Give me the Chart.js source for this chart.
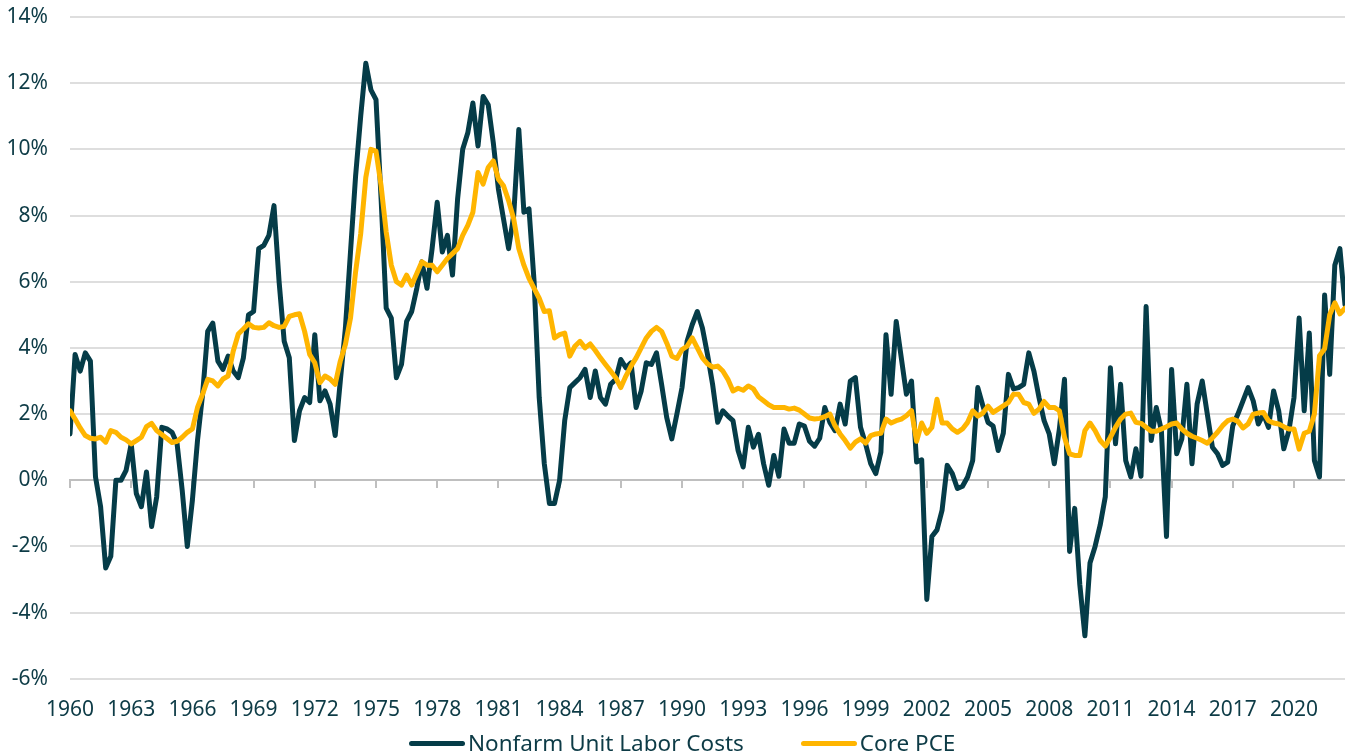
<!DOCTYPE html>
<html>
<head>
<meta charset="utf-8">
<script src="https://cdn.jsdelivr.net/npm/chart.js@4.4.1/dist/chart.umd.min.js"></script>
<style>
  html, body { margin: 0; padding: 0; background: #fff; overflow: hidden; }
  #wrap { position: relative; width: 1345px; height: 755px; }
  #legend {
    position: absolute; top: 732px; left: 409px;
    display: flex; align-items: center;
    font-family: 'Noto Sans', sans-serif; font-size: 22.5px; line-height: 1;
    color: #0d3b46; white-space: nowrap;
  }
  #legend .item { display: flex; align-items: center; margin-right: 57px; }
  #legend .swatch { width: 56px; height: 5px; border-radius: 3px; margin-right: 3px; }
</style>
</head>
<body>
<div id="wrap">
  <canvas id="laborChart"></canvas>
  <div id="legend"></div>
</div>
<script>
// quarterly y/y % change, 1960Q1 .. 2022Q3 (4 values per row = one year)
const startYear = 1960;

const unitLaborCosts = [
  1.4, 3.8, 3.3, 3.85,     3.6, 0.1, -0.8, -2.65,   -2.3, 0.0, 0.0, 0.3,     1.1, -0.4, -0.8, 0.25,
  -1.4, -0.5, 1.6, 1.55,   1.45, 1.1, -0.3, -2.0,   -0.6, 1.2, 2.6, 4.5,     4.75, 3.6, 3.35, 3.75,
  3.3, 3.1, 3.7, 5.0,      5.1, 7.0, 7.1, 7.4,      8.3, 6.0, 4.2, 3.7,      1.2, 2.1, 2.5, 2.35,
  4.4, 2.4, 2.7, 2.3,      1.35, 3.0, 4.6, 6.9,     9.2, 11.0, 12.6, 11.8,   11.5, 8.5, 5.2, 4.9,
  3.1, 3.5, 4.8, 5.1,      5.8, 6.6, 5.8, 7.0,      8.4, 6.9, 7.4, 6.2,      8.5, 10.0, 10.5, 11.4,
  10.1, 11.6, 11.35, 10.2, 8.8, 7.9, 7.0, 8.0,      10.6, 8.1, 8.2, 6.0,     2.5, 0.5, -0.7, -0.7,
  0.0, 1.8, 2.8, 2.95,     3.1, 3.35, 2.5, 3.3,     2.5, 2.3, 2.9, 3.05,     3.65, 3.4, 3.55, 2.2,
  2.7, 3.55, 3.5, 3.85,    2.9, 1.9, 1.25, 2.0,     2.8, 4.2, 4.7, 5.1,      4.6, 3.8, 2.9, 1.75,
  2.1, 1.94, 1.8, 0.9,     0.4, 1.6, 1.0, 1.39,     0.5, -0.15, 0.75, 0.12,  1.55, 1.12, 1.12, 1.7,
  1.64, 1.18, 1.03, 1.27,  2.2, 1.75, 1.5, 2.3,     1.7, 3.0, 3.1, 1.6,      1.1, 0.5, 0.2, 0.85,
  4.4, 2.6, 4.8, 3.7,      2.6, 3.0, 0.55, 0.62,    -3.6, -1.7, -1.5, -0.9,  0.45, 0.2, -0.25, -0.18,
  0.1, 0.6, 2.8, 2.25,     1.75, 1.64, 0.9, 1.42,   3.2, 2.76, 2.8, 2.9,     3.85, 3.3, 2.5, 1.8,
  1.4, 0.5, 1.55, 3.05,    -2.15, -0.85, -3.15, -4.7, -2.5, -2.0, -1.35, -0.5, 3.4, 1.1, 2.9, 0.6,
  0.1, 0.95, 0.12, 5.25,   1.2, 2.2, 1.5, -1.7,     3.35, 0.8, 1.25, 2.9,    0.5, 2.3, 3.0, 2.0,
  1.0, 0.8, 0.45, 0.55,    1.65, 2.0, 2.4, 2.8,     2.4, 1.7, 2.0, 1.6,      2.7, 2.1, 0.95, 1.5,
  2.5, 4.9, 2.1, 4.45,     0.6, 0.1, 5.6, 3.2,      6.5, 7.0, 5.3
];

const corePce = [
  2.1, 1.85, 1.58, 1.35,   1.27, 1.25, 1.3, 1.15,   1.5, 1.45, 1.3, 1.22,    1.1, 1.2, 1.3, 1.62,
  1.72, 1.5, 1.38, 1.26,   1.14, 1.18, 1.3, 1.45,   1.55, 2.2, 2.6, 3.05,    3.0, 2.85, 3.06, 3.15,
  3.9, 4.42, 4.57, 4.73,   4.62, 4.6, 4.62, 4.76,   4.67, 4.62, 4.65, 4.95,  5.0, 5.03, 4.5, 3.8,
  3.55, 2.95, 3.15, 3.06,  2.9, 3.6, 4.1, 4.9,      6.3, 7.45, 9.15, 10.0,   9.95, 8.9, 7.5, 6.5,
  6.0, 5.9, 6.2, 5.9,      6.25, 6.6, 6.5, 6.5,     6.3, 6.5, 6.7, 6.85,     7.0, 7.4, 7.7, 8.1,
  9.3, 8.95, 9.45, 9.65,   9.1, 8.9, 8.45, 7.9,     7.0, 6.5, 6.1, 5.8,      5.5, 5.1, 5.12, 4.3,
  4.4, 4.45, 3.75, 4.05,   4.2, 4.0, 4.12, 3.92,    3.7, 3.5, 3.3, 3.1,      2.8, 3.15, 3.45, 3.7,
  4.0, 4.3, 4.5, 4.62,     4.5, 4.15, 3.75, 3.68,   3.95, 4.05, 4.3, 4.0,    3.7, 3.52, 3.42, 3.45,
  3.3, 3.05, 2.7, 2.78,    2.72, 2.85, 2.76, 2.52,  2.4, 2.28, 2.2, 2.2,     2.2, 2.15, 2.18, 2.12,
  2.0, 1.88, 1.85, 1.87,   1.92, 2.0, 1.65, 1.4,    1.2, 0.97, 1.15, 1.25,   1.12, 1.35, 1.4, 1.42,
  1.85, 1.73, 1.8, 1.85,   1.95, 2.1, 1.18, 1.73,   1.42, 1.6, 2.45, 1.73,   1.73, 1.55, 1.45, 1.55,
  1.75, 2.1, 1.94, 2.03,   2.24, 2.05, 2.15, 2.25,  2.35, 2.6, 2.6, 2.35,    2.3, 2.02, 2.15, 2.38,
  2.2, 2.2, 2.1, 1.3,      0.8, 0.75, 0.75, 1.5,    1.73, 1.5, 1.2, 1.03,    1.3, 1.6, 1.85, 2.0,
  2.03, 1.75, 1.72, 1.6,   1.48, 1.48, 1.55, 1.62,  1.7, 1.73, 1.55, 1.42,   1.33, 1.27, 1.2, 1.12,
  1.28, 1.45, 1.65, 1.8,   1.85, 1.78, 1.58, 1.7,   2.0, 2.03, 2.05, 1.8,    1.73, 1.7, 1.62, 1.55,
  1.55, 0.94, 1.42, 1.48,  2.0, 3.76, 3.97, 5.0,    5.36, 5.03, 5.2
];

const seriesNames = ['Nonfarm Unit Labor Costs', 'Core PCE'];
const xTickYears = [1960, 1963, 1966, 1969, 1972, 1975, 1978, 1981, 1984, 1987, 1990,
                    1993, 1996, 1999, 2002, 2005, 2008, 2011, 2014, 2017, 2020];
const yTickValues = [-6, -4, -2, 0, 2, 4, 6, 8, 10, 12, 14];

const darkTeal = '#053c48';
const gold = '#ffb500';
const textColor = '#0d3b46';
const gridGray = '#dedede';
const axisGray = '#bfbfbf';
const fontFamily = "'Noto Sans', sans-serif";

// x position of each quarter (1960.0, 1960.25, ...)
const quarterX = unitLaborCosts.map((_, i) => startYear + i / 4);
const xMax = quarterX[quarterX.length - 1];

const toPoints = values => values.map((v, i) => ({ x: quarterX[i], y: v }));
const setTicks = list => scale => { scale.ticks = list.map(v => ({ value: v })); };

Chart.defaults.font.family = fontFamily;

const ctx = document.getElementById('laborChart').getContext('2d');
const chart = new Chart(ctx, {
  type: 'line',
  data: {
    datasets: [
      {
        label: seriesNames[0],
        data: toPoints(unitLaborCosts),
        borderColor: darkTeal,
        backgroundColor: darkTeal,
        borderWidth: 5,
        pointRadius: 0,
        tension: 0,
        borderJoinStyle: 'round',
        borderCapStyle: 'round',
        order: 1
      },
      {
        label: seriesNames[1],
        data: toPoints(corePce),
        borderColor: gold,
        backgroundColor: gold,
        borderWidth: 5,
        pointRadius: 0,
        tension: 0,
        borderJoinStyle: 'round',
        borderCapStyle: 'round',
        order: 0
      }
    ]
  },
  options: {
    responsive: true,
    maintainAspectRatio: false,
    animation: false,
    layout: { padding: { top: 17, right: 0, bottom: 13, left: 0 } },
    plugins: {
      tooltip: { enabled: false },
      legend: { display: false }
    },
    scales: {
      // axis line + tick marks sitting on the 0% line
      x: {
        type: 'linear',
        position: { y: 0 },
        min: startYear,
        max: xMax,
        afterBuildTicks: setTicks(xTickYears),
        grid: { drawOnChartArea: false, drawTicks: true, tickLength: 7, color: axisGray, lineWidth: 2 },
        border: { color: axisGray, width: 2 },
        ticks: { display: false }
      },
      // year labels along the bottom
      xLabels: {
        type: 'linear',
        position: 'bottom',
        min: startYear,
        max: xMax,
        afterBuildTicks: setTicks(xTickYears),
        grid: { display: false, drawTicks: false },
        border: { display: false },
        ticks: {
          padding: 19,
          color: textColor,
          font: { size: 21 },
          maxRotation: 0,
          autoSkip: false,
          callback: v => String(v)
        }
      },
      y: {
        min: yTickValues[0],
        max: yTickValues[yTickValues.length - 1],
        afterBuildTicks: setTicks(yTickValues),
        afterFit: scale => { scale.width = 70; },
        // invisible tick marks give the gap between labels and plot
        grid: { color: gridGray, lineWidth: 2, drawTicks: true, tickLength: 22, tickColor: 'rgba(0,0,0,0)' },
        border: { display: false },
        ticks: {
          padding: 0,
          color: textColor,
          font: { size: 21 },
          callback: v => v + '%'
        }
      }
    }
  }
});

// legend as html under the chart
const legendBox = document.getElementById('legend');
chart.data.datasets.forEach(ds => {
  const item = document.createElement('span');
  item.className = 'item';
  const swatch = document.createElement('span');
  swatch.className = 'swatch';
  swatch.style.background = ds.borderColor;
  item.appendChild(swatch);
  item.appendChild(document.createTextNode(ds.label));
  legendBox.appendChild(item);
});
</script>
</body>
</html>
